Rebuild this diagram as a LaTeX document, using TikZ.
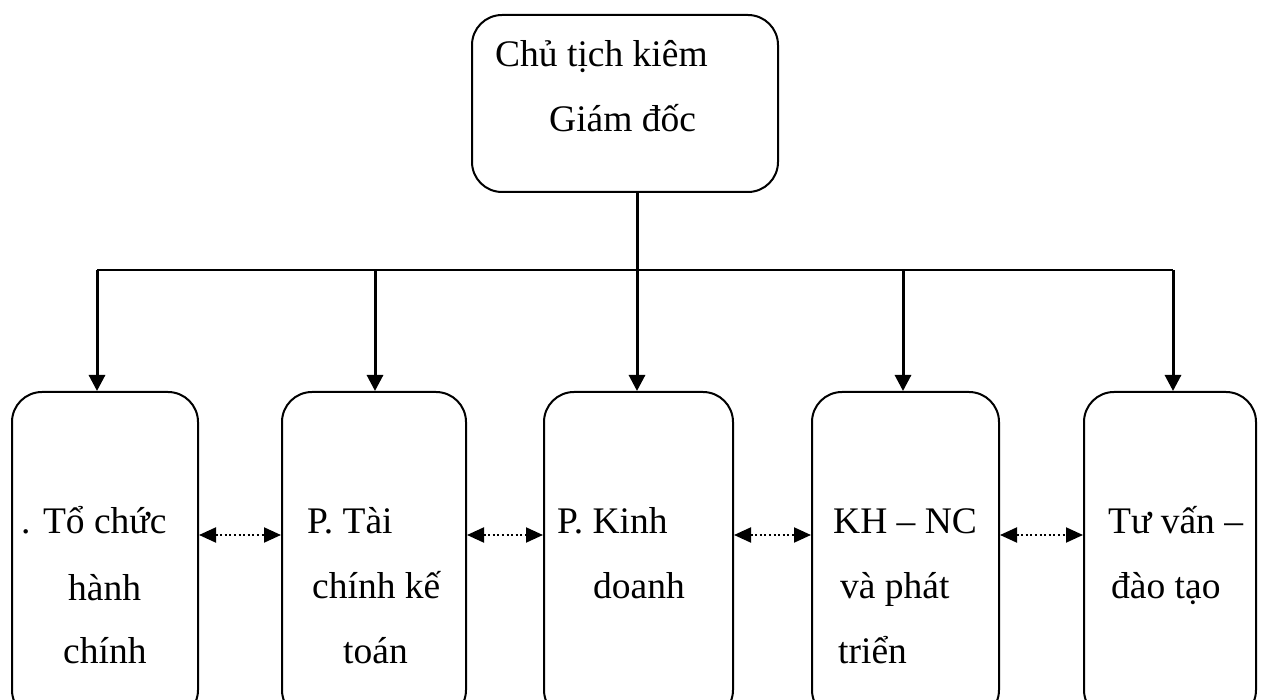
\documentclass[tikz,border=0pt]{standalone}
\usepackage{fontspec}
\setmainfont{Liberation Serif}
\usetikzlibrary{arrows.meta}
\begin{document}
\begin{tikzpicture}[x=1pt,y=-1pt,
  box/.style={draw,line width=2pt,rounded corners=30pt,inner sep=0pt},
  lbl/.style={anchor=base west,inner sep=0pt,font=\fontsize{37.5}{45}\selectfont},
  conn/.style={line width=3pt,-{Triangle[width=16pt,length=16pt]}},
  peer/.style={line width=2pt,dash pattern=on 2pt off 2.6pt,{Triangle[width=15pt,length=17pt]}-{Triangle[width=15pt,length=17pt]}}]
\useasboundingbox (0,0) rectangle (1262,700);
\clip (0,0) rectangle (1262,700);
% boxes
\node[box,minimum width=306pt,minimum height=177pt] (top) at (625,103.5) {};
\node[box,minimum width=186pt,minimum height=328pt] (b1) at (105,556) {};
\node[box,minimum width=184pt,minimum height=328pt] (b2) at (374,556) {};
\node[box,minimum width=189pt,minimum height=328pt] (b3) at (638.5,556) {};
\node[box,minimum width=187pt,minimum height=328pt] (b4) at (905.5,556) {};
\node[box,minimum width=172pt,minimum height=328pt] (b5) at (1170,556) {};
% texts
\node[lbl] (t1) at (495,67) {Chủ tịch kiêm};
\node[lbl] (t2) at (549,132) {Giám đốc};
\node[lbl] (a1) at (21,533) {. Tổ chức};
\node[lbl] (a2) at (68,600) {hành};
\node[lbl] (a3) at (63,663) {chính};
\node[lbl] (c1) at (307,533) {P. Tài};
\node[lbl] (c2) at (312,598) {chính kế};
\node[lbl] (c3) at (343,663) {toán};
\node[lbl] (d1) at (557,533) {P. Kinh};
\node[lbl] (d2) at (593,598) {doanh};
\node[lbl] (e1) at (833,533) {KH – NC};
\node[lbl] (e2) at (840,598) {và phát};
\node[lbl] (e3) at (838,663) {triển};
\node[lbl] (f1) at (1108,533) {Tư vấn –};
\node[lbl] (f2) at (1111,598) {đào tạo};
% bus
\coordinate (k1) at (97,270);
\coordinate (k2) at (375,270);
\coordinate (k3) at (637,270);
\coordinate (k4) at (903,270);
\coordinate (k5) at (1173,270);
\draw[line width=3pt] (top.south -| k3) -- (k3);
\draw[line width=2.2pt] (k1) -- (k5);
\draw[conn] (k1) -- (k1 |- b1.north);
\draw[conn] (k2) -- (k2 |- b2.north);
\draw[conn] (k3) -- (k3 |- b3.north);
\draw[conn] (k4) -- (k4 |- b4.north);
\draw[conn] (k5) -- (k5 |- b5.north);
% peer links
\coordinate (lv) at (0,535);
\draw[peer] (b1.east |- lv) -- (b2.west |- lv);
\draw[peer] (b2.east |- lv) -- (b3.west |- lv);
\draw[peer] (b3.east |- lv) -- (b4.west |- lv);
\draw[peer] (b4.east |- lv) -- (b5.west |- lv);
\end{tikzpicture}
\end{document}
